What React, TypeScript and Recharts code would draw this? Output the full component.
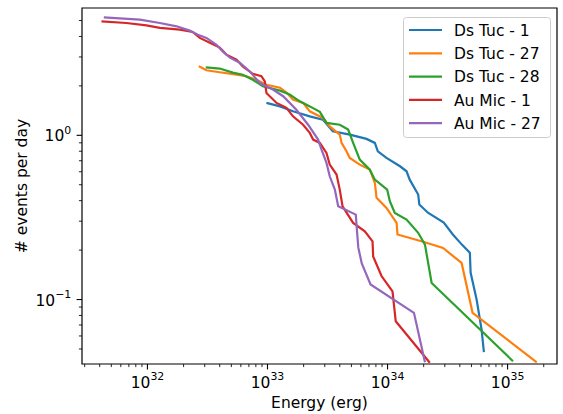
import { LineChart, Line, XAxis, YAxis, ReferenceArea, Label } from 'recharts';

const FONT = '"DejaVu Sans", sans-serif';
const FS = 15.5;

const seriesNames = ['Ds Tuc - 1', 'Ds Tuc - 27', 'Ds Tuc - 28', 'Au Mic - 1', 'Au Mic - 27'];
const seriesColors = ['#1f77b4', '#ff7f0e', '#2ca02c', '#d62728', '#9467bd'];

// energies (erg) and cumulative rates (events per day)
const dsTuc1Energy = [9.8e32, 1.27e33, 1.63e33, 2.25e33, 2.89e33, 3.5e33, 4.85e33, 6.68e33, 7.84e33, 8.3e33, 9.8e33, 1.27e34, 1.44e34, 1.53e34, 1.8e34, 1.84e34, 2.17e34, 2.94e34, 3.5e34, 4.16e34, 4.85e34, 4.92e34, 5.52e34, 6.07e34, 6.35e34];
const dsTuc1Rate = [1.575, 1.5, 1.4, 1.305, 1.246, 1.057, 1.01, 0.951, 0.899, 0.799, 0.728, 0.648, 0.604, 0.537, 0.436, 0.379, 0.338, 0.294, 0.249, 0.216, 0.193, 0.146, 0.1, 0.0657, 0.0478];

const dsTuc27Energy = [2.68e32, 3.1e32, 4.0e32, 5.52e32, 6.68e32, 8.1e32, 9.8e32, 1.27e33, 1.44e33, 1.63e33, 1.98e33, 2.25e33, 2.89e33, 3.3e33, 4.0e33, 4.14e33, 4.55e33, 4.85e33, 5.87e33, 7.12e33, 7.84e33, 8.1e33, 9.8e33, 1.19e34, 1.21e34, 1.98e34, 2.9e34, 4.14e34, 5.11e34, 1.75e35];
const dsTuc27Rate = [2.63, 2.49, 2.42, 2.34, 2.29, 2.18, 2.03, 1.95, 1.82, 1.65, 1.575, 1.4, 1.276, 1.134, 1.01, 0.899, 0.799, 0.728, 0.663, 0.618, 0.513, 0.416, 0.361, 0.293, 0.249, 0.225, 0.206, 0.167, 0.083, 0.0415];

const dsTuc28Energy = [3.06e32, 4.0e32, 5.14e32, 6.22e32, 7.54e32, 9.14e32, 1.27e33, 1.53e33, 1.86e33, 2.25e33, 2.73e33, 3.1e33, 4.0e33, 4.7e33, 5.17e33, 5.87e33, 7.12e33, 7.84e33, 9.93e33, 1.045e34, 1.15e34, 1.44e34, 1.8e34, 2.05e34, 2.33e34, 1.11e35];
const dsTuc28Rate = [2.59, 2.55, 2.41, 2.34, 2.18, 1.99, 1.87, 1.77, 1.61, 1.5, 1.39, 1.19, 1.16, 1.083, 0.899, 0.711, 0.618, 0.537, 0.467, 0.397, 0.337, 0.307, 0.255, 0.216, 0.126, 0.0421];

const auMic1Energy = [4.14e31, 6.68e31, 9.8e31, 1.27e32, 1.86e32, 2.38e32, 2.73e32, 3.31e32, 4.0e32, 4.55e32, 5.52e32, 6.22e32, 7.54e32, 8.9e32, 9.5e32, 9.8e32, 1.19e33, 1.44e33, 1.63e33, 1.98e33, 2.25e33, 2.4e33, 2.73e33, 3.1e33, 3.3e33, 3.76e33, 4.0e33, 4.22e33, 5.17e33, 6.47e33, 7.5e33, 7.59e33, 8.91e33, 1.1e34, 1.17e34, 2.25e34];
const auMic1Rate = [4.94, 4.83, 4.67, 4.51, 4.4, 4.26, 3.92, 3.66, 3.42, 3.1, 2.89, 2.63, 2.37, 2.29, 2.13, 1.81, 1.575, 1.47, 1.305, 1.16, 1.034, 0.942, 0.899, 0.781, 0.663, 0.577, 0.467, 0.37, 0.293, 0.26, 0.226, 0.183, 0.139, 0.112, 0.0738, 0.0412];

const auMic27Energy = [4.33e31, 8.63e31, 1.27e32, 1.75e32, 2.25e32, 2.63e32, 3.1e32, 3.76e32, 4.24e32, 4.86e32, 5.88e32, 7.12e32, 8.63e32, 1.11e33, 1.35e33, 1.74e33, 2.18e33, 2.64e33, 2.82e33, 3.1e33, 3.3e33, 3.64e33, 3.88e33, 5.44e33, 5.58e33, 5.71e33, 6.1e33, 7.22e33, 1.66e34, 2.05e34];
const auMic27Rate = [5.23, 5.06, 4.83, 4.61, 4.34, 4.1, 3.92, 3.56, 3.24, 2.97, 2.77, 2.45, 2.08, 1.9, 1.73, 1.43, 1.16, 0.942, 0.818, 0.679, 0.563, 0.467, 0.37, 0.329, 0.255, 0.207, 0.166, 0.1234, 0.083, 0.0415];

const energyDomain = [2.85e31, 2.58e35];
const rateDomain = [0.0405, 5.96];
const energyDecades = [31, 32, 33, 34, 35];
const rateDecades = [-2, -1, 0];
const multipliers = [1, 2, 3, 4, 5, 6, 7, 8, 9];

const logTicks = (decades: number[], domain: number[]) =>
  decades
    .flatMap((d) => multipliers.map((k) => k * Math.pow(10, d)))
    .filter((v) => v >= domain[0] && v <= domain[1]);

const toPoints = (e: number[], r: number[]) => e.map((v, i) => ({ energy: v, rate: r[i] }));

const series = [
  toPoints(dsTuc1Energy, dsTuc1Rate),
  toPoints(dsTuc27Energy, dsTuc27Rate),
  toPoints(dsTuc28Energy, dsTuc28Rate),
  toPoints(auMic1Energy, auMic1Rate),
  toPoints(auMic27Energy, auMic27Rate),
];

const isMajor = (v: number) => Math.abs(Math.log10(v) - Math.round(Math.log10(v))) < 1e-6;
const expLabel = (v: number) => {
  const e = Math.round(Math.log10(v));
  return e < 0 ? '\u2212' + Math.abs(e) : String(e);
};

const XTick = (props: any) => {
  const { x, y, payload } = props;
  const v = payload.value;
  const major = isMajor(v);
  return (
    <g>
      <line x1={x} x2={x} y1={y} y2={y + (major ? 5.4 : 3.1)} stroke="#000" strokeWidth={major ? 1.1 : 0.85} />
      {major && (
        <text x={x} y={y + 23.5} textAnchor="middle" fontFamily={FONT} fontSize={FS} fill="#000">
          <tspan>10</tspan>
          <tspan dy={-7.2} fontSize={10.9}>{expLabel(v)}</tspan>
        </text>
      )}
    </g>
  );
};

const YTick = (props: any) => {
  const { x, y, payload } = props;
  const v = payload.value;
  const major = isMajor(v);
  return (
    <g>
      <line x1={x} x2={x - (major ? 5.4 : 3.1)} y1={y} y2={y} stroke="#000" strokeWidth={major ? 1.1 : 0.85} />
      {major && (
        <text x={x - 10.8} y={y + 6} textAnchor="end" fontFamily={FONT} fontSize={FS} fill="#000">
          <tspan>10</tspan>
          <tspan dy={-7.2} fontSize={10.9}>{expLabel(v)}</tspan>
        </text>
      )}
    </g>
  );
};

const XTitle = (props: any) => {
  const { x, y, width } = props.viewBox;
  return (
    <text x={x + width / 2} y={y + 44} textAnchor="middle" fontFamily={FONT} fontSize={FS} fill="#000">
      Energy (erg)
    </text>
  );
};

const YTitle = (props: any) => {
  const { y, height } = props.viewBox;
  const cx = 26.5;
  const cy = y + height / 2;
  return (
    <text x={cx} y={cy} transform={`rotate(-90 ${cx} ${cy})`} textAnchor="middle" fontFamily={FONT} fontSize={FS} fill="#000">
      # events per day
    </text>
  );
};

const ChartLegend = () => (
  <div style={{ position: 'absolute', left: 403, top: 17, width: 148, height: 121 }}>
    <svg width={148} height={121} style={{ display: 'block' }}>
      <rect x={0.5} y={0.5} width={147} height={120} rx={3} fill="#fff" fillOpacity={0.8} stroke="#cccccc" strokeWidth={1} />
      {seriesNames.map((name, i) => {
        const cy = 13 + i * 23.3;
        return (
          <g key={name}>
            <line x1={6} x2={39} y1={cy} y2={cy} stroke={seriesColors[i]} strokeWidth={2.2} />
            <text x={51} y={cy + 5.6} fontFamily={FONT} fontSize={FS} fill="#000">
              {name}
            </text>
          </g>
        );
      })}
    </svg>
  </div>
);

export default function App() {
  return (
    <div style={{ position: 'absolute', left: 0, top: 0, width: 563, height: 414, background: '#fff' }}>
      <LineChart width={563} height={414} margin={{ top: 8, right: 6, bottom: 0, left: 0 }}>
        <XAxis
          dataKey="energy"
          type="number"
          scale="log"
          domain={energyDomain}
          allowDataOverflow
          ticks={logTicks(energyDecades, energyDomain)}
          interval={0}
          tick={XTick}
          tickLine={false}
          axisLine={false}
          tickSize={0}
          tickMargin={0}
          height={50}
        >
          <Label content={XTitle} />
        </XAxis>
        <YAxis
          dataKey="rate"
          type="number"
          scale="log"
          domain={rateDomain}
          allowDataOverflow
          ticks={logTicks(rateDecades, rateDomain)}
          interval={0}
          tick={YTick}
          tickLine={false}
          axisLine={false}
          tickSize={0}
          tickMargin={0}
          width={82}
        >
          <Label content={YTitle} />
        </YAxis>
        {series.map((data, i) => (
          <Line
            key={seriesNames[i]}
            data={data}
            dataKey="rate"
            name={seriesNames[i]}
            type="linear"
            stroke={seriesColors[i]}
            strokeWidth={2.2}
            dot={false}
            activeDot={false}
            isAnimationActive={false}
          />
        ))}
        <ReferenceArea
          x1={energyDomain[0]}
          x2={energyDomain[1]}
          y1={rateDomain[0]}
          y2={rateDomain[1]}
          fill="none"
          stroke="#000"
          strokeWidth={1.2}
          ifOverflow="visible"
        />
      </LineChart>
      <ChartLegend />
    </div>
  );
}
